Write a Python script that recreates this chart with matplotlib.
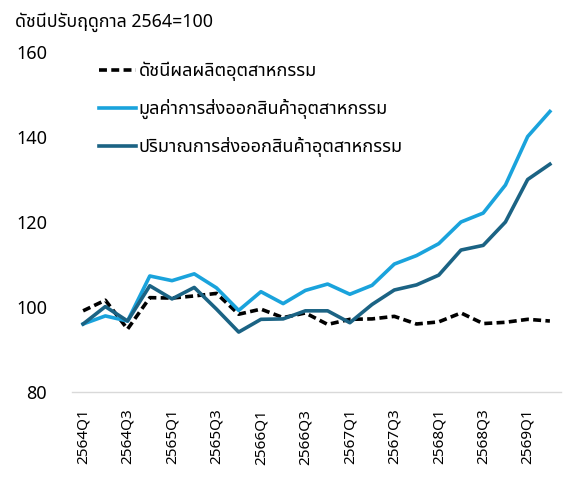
import matplotlib
matplotlib.use("Agg")
import matplotlib.pyplot as plt
from matplotlib import font_manager
from matplotlib.ft2font import FT2Font

# ---- data ----
quarters = [f"{y}Q{q}" for y in range(2564, 2570) for q in range(1, 5)][:22]
ipi = [99.1, 101.6, 94.8, 102.2, 102.1, 102.6, 103.2, 98.3, 99.5, 97.5, 98.6,
       95.9, 97.1, 97.2, 97.8, 96.0, 96.5, 98.6, 96.1, 96.4, 97.1, 96.7]
export_value = [96.0, 97.9, 96.7, 107.3, 106.2, 107.8, 104.5, 99.2, 103.6, 100.8, 103.9,
                105.4, 103.0, 105.1, 110.1, 112.1, 114.9, 120.0, 122.1, 128.7, 140.1, 146.0]
export_volume = [96.0, 100.1, 96.7, 105.0, 101.9, 104.6, 99.5, 94.1, 97.1, 97.2, 99.1,
                 99.1, 96.3, 100.6, 104.0, 105.2, 107.5, 113.4, 114.5, 120.0, 130.0, 133.6]
series_labels = ["ดัชนีผลผลิตอุตสาหกรรม",
                 "มูลค่าการส่งออกสินค้าอุตสาหกรรม",
                 "ปริมาณการส่งออกสินค้าอุตสาหกรรม"]
title = "ดัชนีปรับฤดูกาล 2564=100"
yticks = [80, 100, 120, 140, 160]

# ---- find a font with Thai glyphs ----
thai_family = None
preferred = ["Tahoma", "Noto Sans Thai", "Noto Sans Thai UI", "Loma", "Garuda",
             "Sarabun", "Leelawadee UI", "Noto Sans"]
cands = []
for f in font_manager.fontManager.ttflist:
    try:
        cm = FT2Font(f.fname).get_charmap()
        if 0x0E14 in cm and 0x0E2A in cm:
            cands.append(f.name)
    except Exception:
        pass
for p in preferred:
    if p in cands:
        thai_family = p
        break
if thai_family is None and cands:
    thai_family = cands[0]
families = ([thai_family] if thai_family else []) + ["DejaVu Sans"]
plt.rcParams["font.family"] = families

fig = plt.figure(figsize=(5.71, 4.82), dpi=100)
ax = fig.add_axes([72/571, 1 - 392/482, (561-72)/571, (392-52)/482])

x = list(range(len(quarters)))
l1, = ax.plot(x, ipi, color="black", lw=2.6, ls=(0, (2.2, 1.2)), label=series_labels[0])
l2, = ax.plot(x, export_value, color="#1AA3DC", lw=2.6, label=series_labels[1])
l3, = ax.plot(x, export_volume, color="#1B6384", lw=2.6, label=series_labels[2])

ax.set_xlim(-0.5, len(quarters) - 0.5)
ax.set_ylim(80, 160)
ax.set_yticks(yticks)
ax.set_xticks(x[::2])
ax.set_xticklabels(quarters[::2], rotation=90)
ax.tick_params(axis="both", length=0, colors="black")
ax.tick_params(axis="x", labelsize=11, pad=12)
ax.tick_params(axis="y", labelsize=13, pad=18)
for s in ["top", "right", "left"]:
    ax.spines[s].set_visible(False)
ax.spines["bottom"].set_color("#D9D9D9")
ax.spines["bottom"].set_linewidth(1.0)

leg = ax.legend(handles=[l1, l2, l3], loc="upper left", bbox_to_anchor=(0.022, 1.02),
                frameon=False, fontsize=13, handlelength=2.05, handletextpad=0.15,
                labelspacing=1.0)

fig.text(15/571, 1 - 22/482, title, fontsize=12.8, va="center", ha="left")

fig.savefig("out.png", dpi=100)
